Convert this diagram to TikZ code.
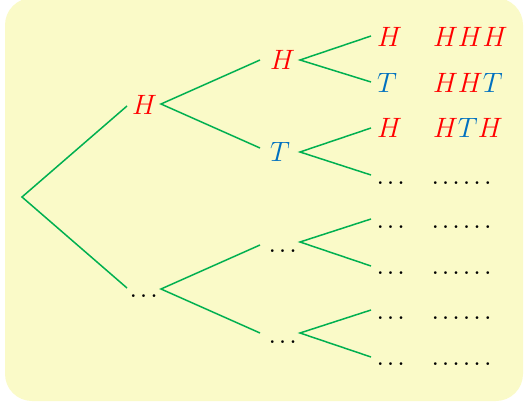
\RequirePackage{fix-cm}
\documentclass[tikz,border=0pt]{standalone}
\usetikzlibrary{calc}
\definecolor{bgy}{RGB}{250,250,200}
\definecolor{hred}{RGB}{255,0,0}
\definecolor{tblue}{RGB}{0,112,192}
\definecolor{brgreen}{RGB}{0,176,80}
\newcommand{\dk}{\kern2.0pt}
\newcommand{\threedots}{{\fontsize{34}{40}\selectfont.\dk.\dk.}}
\newcommand{\sixdots}{{\fontsize{34}{40}\selectfont.\dk.\dk.\dk.\dk.\dk.}}
\begin{document}
\begin{tikzpicture}[x=1pt,y=-1pt,
  lbl/.style={anchor=base west,inner sep=0pt,outer sep=0pt,font=\fontsize{28}{34}\selectfont},
  branch/.style={draw=brgreen,line width=1.5pt}]
\useasboundingbox (0,0) rectangle (524,406);
\fill[bgy,rounded corners=27pt] (5,-2) rectangle (523,401);
% root
\coordinate (r) at (22,197);
% level 1
\node[lbl,text=hred] (a) at (132,115) {$H$};
\node[lbl] (b) at (129,297) {\threedots};
\coordinate (a-in) at (127,106);
\coordinate (a-out) at (161,104);
\coordinate (b-in) at (127,288);
\coordinate (b-out) at (161,289);
% level 2
\node[lbl,text=hred] (aa) at (270,70) {$H$};
\node[lbl,text=tblue] (ab) at (270,162) {$T$};
\node[lbl] (ba) at (268,252) {\threedots};
\node[lbl] (bb) at (268,343) {\threedots};
\coordinate (aa-in) at (260,60);
\coordinate (ab-in) at (260,148);
\coordinate (ba-in) at (260,245);
\coordinate (bb-in) at (260,333);
\coordinate (aa-out) at (300,60);
\coordinate (ab-out) at (300,152);
\coordinate (ba-out) at (300,242);
\coordinate (bb-out) at (300,333);
% level 3
\node[lbl,text=hred] (aaa) at (377,47) {$H$};
\node[lbl,text=tblue] (aab) at (377,93) {$T$};
\node[lbl,text=hred] (aba) at (377,138) {$H$};
\node[lbl] (abb) at (376,184) {\threedots};
\node[lbl] (baa) at (376,228) {\threedots};
\node[lbl] (bab) at (376,274) {\threedots};
\node[lbl] (bba) at (376,319) {\threedots};
\node[lbl] (bbb) at (376,365) {\threedots};
\coordinate (aaa-in) at (371,36);
\coordinate (aab-in) at (371,82);
\coordinate (aba-in) at (371,128);
\coordinate (abb-in) at (371,175);
\coordinate (baa-in) at (371,219);
\coordinate (bab-in) at (371,266);
\coordinate (bba-in) at (371,310);
\coordinate (bbb-in) at (371,357);
% outcomes
\node[lbl] (o1) at (433,47) {$\color{hred}HHH$};
\node[lbl] (o2) at (433,93) {$\color{hred}HH\color{tblue}T$};
\node[lbl] (o3) at (433,138) {$\color{hred}H\color{tblue}T\color{hred}H$};
\node[lbl] (o4) at (431,184) {\sixdots};
\node[lbl] (o5) at (431,228) {\sixdots};
\node[lbl] (o6) at (431,274) {\sixdots};
\node[lbl] (o7) at (431,319) {\sixdots};
\node[lbl] (o8) at (431,365) {\sixdots};
% branches
\draw[branch] (a-in) -- (r) -- (b-in);
\draw[branch] (aa-in) -- (a-out) -- (ab-in);
\draw[branch] (ba-in) -- (b-out) -- (bb-in);
\draw[branch] (aaa-in) -- (aa-out) -- (aab-in);
\draw[branch] (aba-in) -- (ab-out) -- (abb-in);
\draw[branch] (baa-in) -- (ba-out) -- (bab-in);
\draw[branch] (bba-in) -- (bb-out) -- (bbb-in);
\end{tikzpicture}
\end{document}
